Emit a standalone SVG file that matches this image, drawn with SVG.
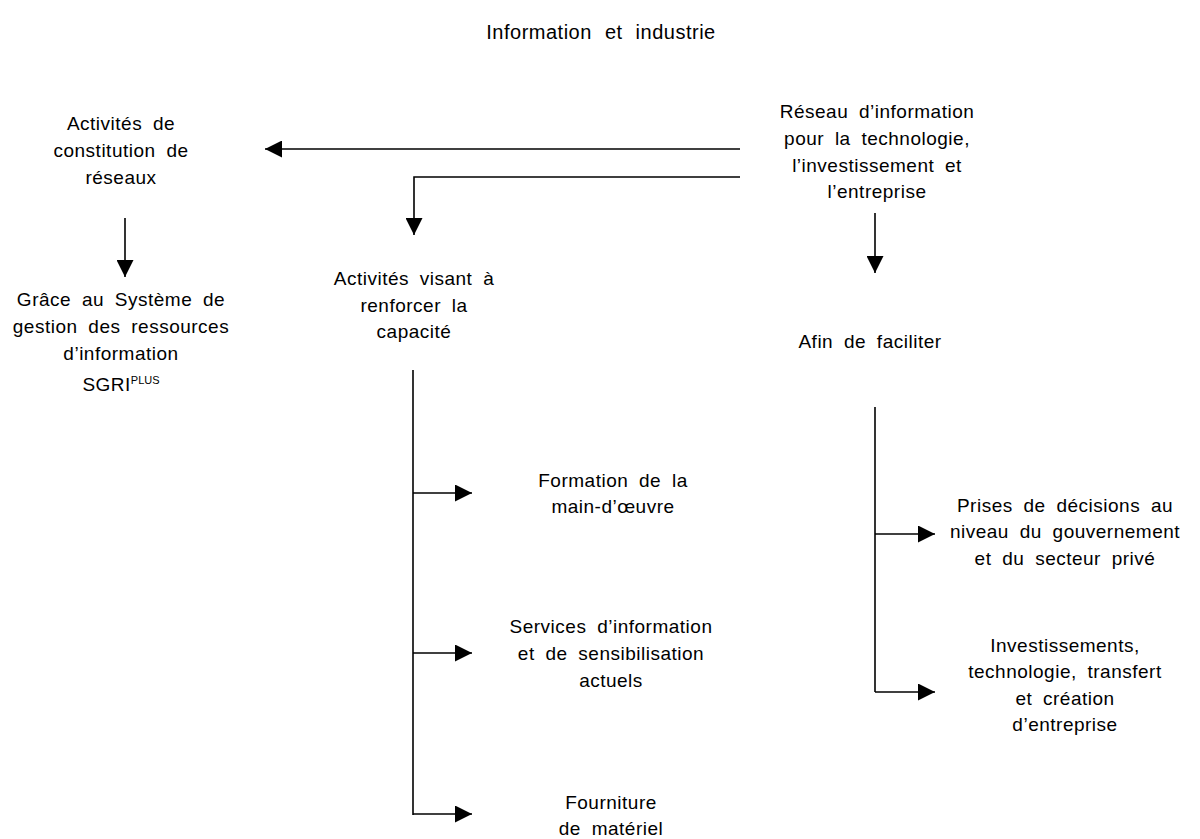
<svg xmlns="http://www.w3.org/2000/svg" width="1200" height="839" viewBox="0 0 1200 839">
<defs>
<style>
text{font-family:"Liberation Sans",Arial,sans-serif;font-size:19px;fill:#000;text-anchor:middle;letter-spacing:0.5px;word-spacing:5px}
.title{font-size:20px;letter-spacing:0.5px;word-spacing:7px}
.ln{stroke:#000;stroke-width:1.6;fill:none}
</style>
<marker id="ah" viewBox="0 0 10 10" refX="10" refY="5" markerWidth="17" markerHeight="17" markerUnits="userSpaceOnUse" orient="auto">
<path d="M0,0 L10,5 L0,10 z" fill="#000"/>
</marker>
</defs>
<rect width="1200" height="839" fill="#fff"/>
<text class="title" x="601" y="39">Information et industrie</text>

<g id="connectors">
<line class="ln" x1="740" y1="149" x2="265" y2="149" marker-end="url(#ah)"/>
<polyline class="ln" points="740,177 414,177 414,235" marker-end="url(#ah)"/>
<line class="ln" x1="125" y1="218" x2="125" y2="277" marker-end="url(#ah)"/>
<line class="ln" x1="875" y1="213" x2="875" y2="273" marker-end="url(#ah)"/>
<line class="ln" x1="413" y1="370" x2="413" y2="815"/>
<line class="ln" x1="413" y1="493" x2="472" y2="493" marker-end="url(#ah)"/>
<line class="ln" x1="413" y1="653" x2="472" y2="653" marker-end="url(#ah)"/>
<line class="ln" x1="413" y1="814" x2="472" y2="814" marker-end="url(#ah)"/>
<line class="ln" x1="875" y1="407" x2="875" y2="692"/>
<line class="ln" x1="875" y1="534" x2="935" y2="534" marker-end="url(#ah)"/>
<line class="ln" x1="875" y1="692" x2="935" y2="692" marker-end="url(#ah)"/>
</g>

<g id="reseau">
<text x="877" y="118">Réseau d’information</text>
<text x="877" y="145">pour la technologie,</text>
<text x="877" y="172">l’investissement et</text>
<text x="877" y="198">l’entreprise</text>
</g>
<g id="constitution">
<text x="121" y="130">Activités de</text>
<text x="121" y="157">constitution de</text>
<text x="121" y="184">réseaux</text>
</g>
<g id="sgri">
<text x="121" y="306">Grâce au Système de</text>
<text x="121" y="333">gestion des ressources</text>
<text x="121" y="360">d’information</text>
<text x="121" y="391">SGRI<tspan font-size="11" dy="-7" letter-spacing="0">PLUS</tspan></text>
</g>
<g id="capacite">
<text x="414" y="285">Activités visant à</text>
<text x="414" y="312">renforcer la</text>
<text x="414" y="338">capacité</text>
</g>
<g id="faciliter">
<text x="870" y="348">Afin de faciliter</text>
</g>
<g id="formation">
<text x="613" y="487">Formation de la</text>
<text x="613" y="513">main-d’œuvre</text>
</g>
<g id="services">
<text x="611" y="633">Services d’information</text>
<text x="611" y="660">et de sensibilisation</text>
<text x="611" y="687">actuels</text>
</g>
<g id="fourniture">
<text x="611" y="809">Fourniture</text>
<text x="611" y="835">de matériel</text>
</g>
<g id="decisions">
<text x="1065" y="512">Prises de décisions au</text>
<text x="1065" y="538">niveau du gouvernement</text>
<text x="1065" y="565">et du secteur privé</text>
</g>
<g id="investissements">
<text x="1065" y="652">Investissements,</text>
<text x="1065" y="678">technologie, transfert</text>
<text x="1065" y="705">et création</text>
<text x="1065" y="731">d’entreprise</text>
</g>
</svg>
